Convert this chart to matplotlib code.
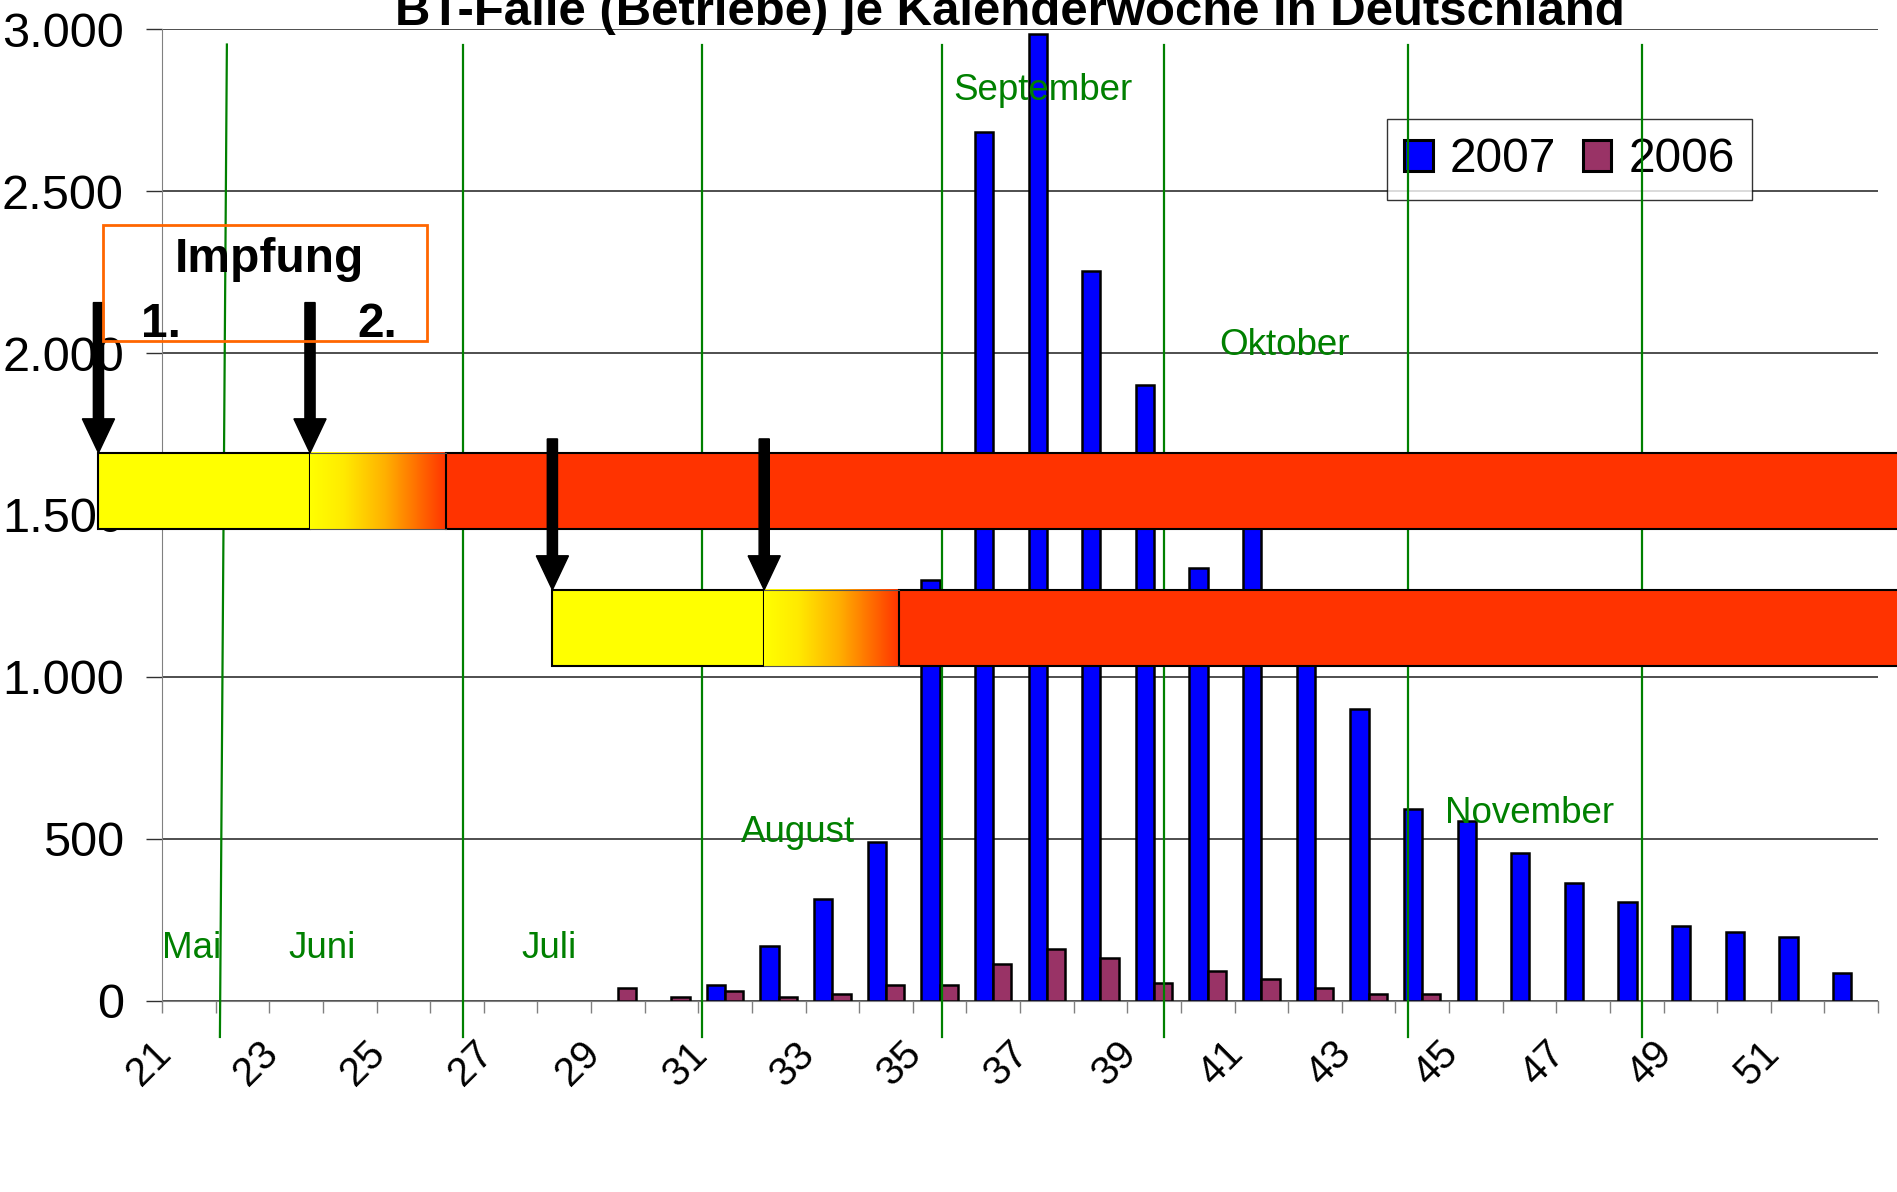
import numpy as np
import matplotlib
matplotlib.use('Agg')
import matplotlib.pyplot as plt
from matplotlib.patches import Rectangle, Patch
from matplotlib.colors import LinearSegmentedColormap
from matplotlib.ticker import FuncFormatter
import matplotlib.transforms as mtransforms

plt.rcParams['font.family'] = ['Liberation Sans', 'DejaVu Sans']

# Daten: BT-Fälle je Kalenderwoche
weeks = [21, 22, 23, 24, 25, 26, 27, 28, 29, 30, 31, 32, 33, 34, 35, 36,
         37, 38, 39, 40, 41, 42, 43, 44, 45, 46, 47, 48, 49, 50, 51, 52]
cases_2007 = [0, 0, 0, 0, 0, 0, 0, 0, 0, 0, 49, 169, 315, 490, 1300, 2682,
              2987, 2254, 1902, 1335, 1560, 1180, 900, 593, 556, 455, 363, 306, 232, 213, 196, 85]
cases_2006 = [0, 0, 0, 0, 0, 0, 0, 0, 38, 10, 29, 11, 20, 47, 48, 112,
              159, 131, 56, 93, 66, 38, 20, 20, 0, 0, 0, 0, 0, 0, 0, 0]
week_labels = [str(w) for w in weeks[::2]]
series_names = ['2007', '2006']
series_colors = ['#0000FF', '#993366']

# Monate (Beschriftung + Trennlinien)
month_names = ['Mai', 'Juni', 'Juli', 'August', 'September', 'Oktober', 'November']
month_text_pos = [(-0.5, 132), (1.85, 132), (6.20, 132), (10.30, 490),
                  (14.26, 2783), (19.22, 1995), (23.42, 548)]
month_lines = [(0.71, 0.58), (5.12, 5.12), (9.57, 9.57), (14.04, 14.04),
               (18.19, 18.19), (22.73, 22.73), (27.09, 27.09)]

# Impfung: gelb -> Übergang -> rot
impf_rows = [
    {'yellow': (-1.685, 2.26), 'fade': (2.26, 4.80), 'red': (4.80, 33.0), 'y': (1457, 1692), 'arrow_top': 2156},
    {'yellow': (6.78, 10.73), 'fade': (10.73, 13.25), 'red': (13.25, 33.0), 'y': (1034, 1269), 'arrow_top': 1735},
]

W, H = 1897, 1192
fig = plt.figure(figsize=(W / 100, H / 100), dpi=100)
ax = fig.add_axes([162 / W, 1 - 1000.7 / H, (1878 - 162) / W, (1000.7 - 29.3) / H])

x = np.arange(len(weeks))
bw = 0.34
ax.bar(x - bw / 2, cases_2007, bw, color=series_colors[0], edgecolor='black',
       linewidth=[1.8 if v > 0 else 0 for v in cases_2007], zorder=2)
ax.bar(x + bw / 2, cases_2006, bw, color=series_colors[1], edgecolor='black',
       linewidth=[1.8 if v > 0 else 0 for v in cases_2006], zorder=2)

# Monatslinien und -namen
for (xt, xb) in month_lines:
    ax.plot([xt, xb], [2953, -112], color='#008000', lw=1.6, zorder=4, clip_on=False)
for name, (mx, my) in zip(month_names, month_text_pos):
    ax.text(mx, my, name, color='#008000', fontsize=26.5, ha='left', va='baseline', zorder=8)

# Impfbalken
fade_cmap = LinearSegmentedColormap.from_list(
    'fade', [(0, '#FFFF00'), (0.25, '#FFEA00'), (0.55, '#FFB000'), (0.8, '#FF6A00'), (1, '#FF3300')])
grad = np.linspace(0, 1, 256).reshape(1, -1)
for row in impf_rows:
    y0, y1 = row['y']
    ya, yb = row['yellow']
    ax.add_patch(Rectangle((ya, y0), yb - ya, y1 - y0, facecolor='#FFFF00', edgecolor='black',
                           lw=1.5, zorder=5, clip_on=False))
    fa, fb = row['fade']
    im = ax.imshow(grad, extent=(fa, fb, y0, y1), cmap=fade_cmap, aspect='auto', zorder=5)
    im.set_clip_on(False)
    ax.plot([fa, fb], [y1, y1], color='#555555', lw=0.8, zorder=5.1, clip_on=False)
    ax.plot([fa, fb], [y0, y0], color='#555555', lw=0.8, zorder=5.1, clip_on=False)
    ra, rb = row['red']
    ax.add_patch(Rectangle((ra, y0), rb - ra, y1 - y0, facecolor='#FF3300', edgecolor='black',
                           lw=1.5, zorder=5, clip_on=False))
    for ax_x in (ya, yb):
        ax.arrow(ax_x, row['arrow_top'], 0, y1 - row['arrow_top'], width=0.19, head_width=0.6,
                 head_length=105, length_includes_head=True, fc='black', ec='black',
                 zorder=6, clip_on=False)

# Impfung Kasten
ax.add_patch(Rectangle((-1.60, 2036), 6.04, 361, fill=False, edgecolor='#FF6600', lw=2,
                       zorder=7, clip_on=False))
ax.text(1.5, 2249, 'Impfung', fontsize=34.5, fontweight='bold', ha='center', va='baseline', zorder=8)
ax.text(-0.89, 2051, '1.', fontsize=34.5, fontweight='bold', ha='left', va='baseline', zorder=8)
ax.text(3.14, 2051, '2.', fontsize=34.5, fontweight='bold', ha='left', va='baseline', zorder=8)

# Achsen
ax.set_xlim(-0.5, len(weeks) - 0.5)
ax.set_ylim(0, 3000)
ax.set_yticks(np.arange(0, 3001, 500))
ax.yaxis.set_major_formatter(FuncFormatter(lambda v, p: f'{int(v):,}'.replace(',', '.')))
ax.yaxis.grid(True, color='#303030', lw=1.2, zorder=0)
ax.set_axisbelow(True)
ax.tick_params(axis='y', direction='out', length=11.5, width=1, color='#303030', pad=16, labelsize=35)

ax.set_xticks(np.arange(-0.5, len(weeks), 1))
ax.set_xticklabels([])
ax.set_xticks(x[::2], minor=True)
ax.set_xticklabels(week_labels, minor=True, rotation=45, ha='right', va='center',
                   rotation_mode='anchor', fontsize=29)
ax.tick_params(axis='x', which='major', direction='out', length=8.6, width=1, color='#808080')
ax.tick_params(axis='x', which='minor', length=0, pad=34)
shift = mtransforms.ScaledTranslation(-0.24, 0, fig.dpi_scale_trans)
for lab in ax.get_xticklabels(minor=True):
    lab.set_transform(lab.get_transform() + shift)

for s in ['top', 'right']:
    ax.spines[s].set_visible(False)
ax.spines['left'].set_color('#808080')
ax.spines['bottom'].set_color('#808080')

handles = [Patch(facecolor=c, edgecolor='black', linewidth=2.2, label=n)
           for c, n in zip(series_colors, series_names)]
leg = ax.legend(handles=handles, loc='upper left', bbox_to_anchor=(1386.7 / W, 1 - 119.3 / H),
                bbox_transform=fig.transFigure, ncol=2, fontsize=34.5, frameon=True, fancybox=False,
                edgecolor='black', borderaxespad=0, handlelength=0.6, handleheight=0.62,
                handletextpad=0.35, columnspacing=0.55, borderpad=0.37)
leg.get_frame().set_linewidth(1)
leg.set_zorder(3)

fig.text(0.5324, 1 - 25 / H, 'BT-Fälle (Betriebe) je Kalenderwoche in Deutschland',
         ha='center', va='baseline', fontsize=35.4, fontweight='bold')

fig.savefig('out.png', dpi=100)
